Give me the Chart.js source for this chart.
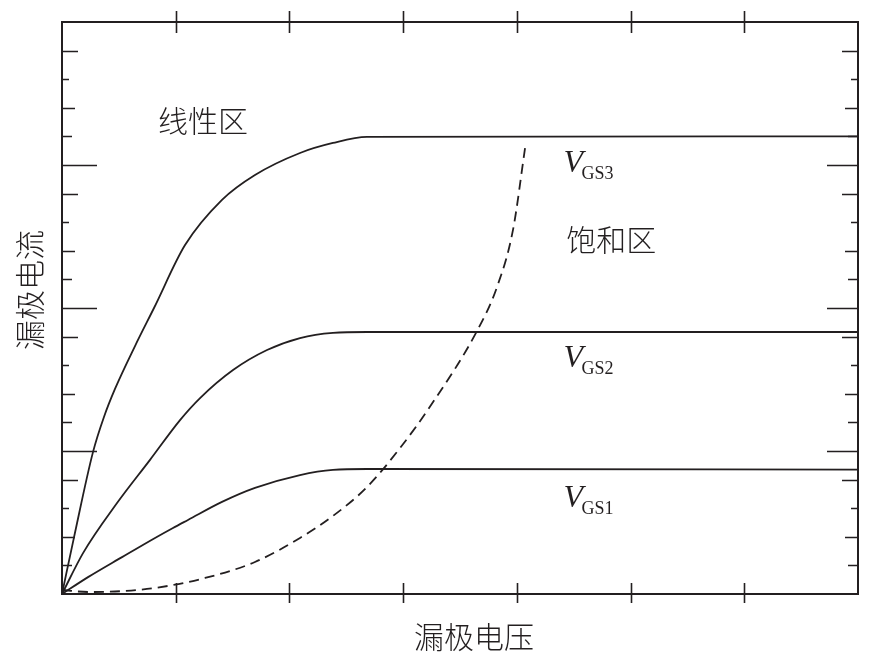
<!DOCTYPE html>
<html>
<head>
<meta charset="utf-8">
<script src="https://cdn.jsdelivr.net/npm/chart.js@4.4.1/dist/chart.umd.min.js"></script>
<style>
    html, body { margin: 0; padding: 0; background: #fff; }
    canvas { display: block; }
</style>
</head>
<body>
<canvas id="chart" width="874" height="661"></canvas>
<script>
// ===== Data =====
const vgs3Drain   = [0, 0.106, 0.273, 0.369, 0.466, 0.642, 0.809, 1.082, 1.407, 1.697, 2.093, 2.383, 2.682, 7];
const vgs3Current = [0, 1.99, 4.97, 6.19, 7.17, 8.67, 10.0, 12.2, 13.78, 14.65, 15.42, 15.77, 15.98, 16.0];

const vgs2Drain   = [0, 0.185, 0.484, 0.774, 1.038, 1.214, 1.504, 1.803, 2.093, 2.383, 2.682, 7];
const vgs2Current = [0, 1.43, 3.18, 4.69, 6.08, 6.85, 7.83, 8.53, 8.95, 9.13, 9.16, 9.16];

const vgs1Drain   = [0, 0.229, 0.528, 0.818, 0.976, 1.108, 1.407, 1.697, 2.093, 2.383, 2.682, 7];
const vgs1Current = [0, 0.59, 1.29, 1.96, 2.31, 2.59, 3.22, 3.71, 4.16, 4.34, 4.37, 4.35];

const boundaryDrain   = [0, 0.229, 0.528, 0.818, 1.258, 1.697, 2.093, 2.383, 2.682, 2.972, 3.263, 3.650, 3.825, 3.966, 4.072];
const boundaryCurrent = [0.14, 0.07, 0.10, 0.21, 0.56, 1.12, 1.96, 2.73, 3.74, 5.10, 6.71, 9.2, 10.73, 12.73, 15.59];

const xTicks = [1, 2, 3, 4, 5, 6];
const yMajorTicks = [5, 10, 15];
const yMinorTicks = [1, 2, 3, 4, 6, 7, 8, 9, 11, 12, 13, 14, 16, 17, 18, 19];

const ink = '#231f20';

function toPoints(xs, ys) {
    return xs.map((x, i) => ({ x: x, y: ys[i] }));
}

// ===== Frame, inward ticks and annotations =====
const framePlugin = {
    id: 'frame',
    afterDatasetsDraw(chart) {
        const ctx = chart.ctx;
        const a = chart.chartArea;
        const xs = chart.scales.x;
        const ys = chart.scales.y;
        const minorLen = { 1: 10, 2: 13, 3: 7, 4: 16 };

        ctx.save();
        ctx.strokeStyle = ink;
        ctx.lineWidth = 2;
        ctx.strokeRect(a.left, a.top, a.right - a.left, a.bottom - a.top);

        ctx.lineWidth = 1.6;
        ctx.beginPath();
        xTicks.forEach(v => {
            const px = Math.round(xs.getPixelForValue(v)) + 0.5;
            ctx.moveTo(px, a.top - 11);
            ctx.lineTo(px, a.top + 11);
            ctx.moveTo(px, a.bottom - 11);
            ctx.lineTo(px, a.bottom + 9);
        });
        yMajorTicks.forEach(v => {
            const py = Math.round(ys.getPixelForValue(v)) + 0.5;
            ctx.moveTo(a.left, py);
            ctx.lineTo(a.left + 35, py);
            ctx.moveTo(a.right, py);
            ctx.lineTo(a.right - 31, py);
        });
        yMinorTicks.forEach(v => {
            const py = Math.round(ys.getPixelForValue(v)) + 0.5;
            const len = minorLen[v % 5];
            ctx.moveTo(a.left, py);
            ctx.lineTo(a.left + len, py);
            ctx.moveTo(a.right, py);
            ctx.lineTo(a.right - len, py);
        });
        ctx.stroke();
        ctx.restore();
    },
    afterDraw(chart) {
        const ctx = chart.ctx;
        const xs = chart.scales.x;
        const ys = chart.scales.y;
        const cjk = '300 30px "Noto Sans CJK SC", sans-serif';

        ctx.save();
        ctx.fillStyle = ink;
        ctx.textAlign = 'center';
        ctx.textBaseline = 'middle';
        ctx.font = cjk;
        ctx.fillText('线性区', xs.getPixelForValue(1.24), ys.getPixelForValue(16.54));
        ctx.fillText('饱和区', xs.getPixelForValue(4.83), ys.getPixelForValue(12.38));

        // axis titles
        ctx.fillText('漏极电压', 474, 637);
        ctx.translate(30, 290);
        ctx.rotate(-Math.PI / 2);
        ctx.fillText('漏极电流', 0, 0);
        ctx.restore();

        // V_GS labels
        const gateLabels = [['GS3', 14.76], ['GS2', 7.94], ['GS1', 3.04]];
        ctx.save();
        ctx.fillStyle = ink;
        ctx.textAlign = 'left';
        ctx.textBaseline = 'alphabetic';
        gateLabels.forEach(([sub, yv]) => {
            const px = xs.getPixelForValue(4.41);
            const py = ys.getPixelForValue(yv);
            ctx.font = 'italic 32px "Liberation Serif", serif';
            ctx.fillText('V', px, py);
            ctx.font = '18px "Liberation Serif", serif';
            ctx.fillText(sub, px + 18, py + 7);
        });
        ctx.restore();
    }
};

const lineStyle = {
    borderColor: ink,
    borderWidth: 1.8,
    pointRadius: 0,
    fill: false,
    cubicInterpolationMode: 'monotone'
};

new Chart(document.getElementById('chart'), {
    type: 'line',
    data: {
        datasets: [
            Object.assign({ label: 'VGS3', data: toPoints(vgs3Drain, vgs3Current) }, lineStyle),
            Object.assign({ label: 'VGS2', data: toPoints(vgs2Drain, vgs2Current) }, lineStyle),
            Object.assign({ label: 'VGS1', data: toPoints(vgs1Drain, vgs1Current) }, lineStyle),
            Object.assign({ label: 'boundary', data: toPoints(boundaryDrain, boundaryCurrent), borderDash: [10, 6] }, lineStyle)
        ]
    },
    options: {
        responsive: false,
        animation: false,
        layout: { padding: { left: 62, top: 22, right: 16, bottom: 67 } },
        scales: {
            x: { type: 'linear', min: 0, max: 7, display: false },
            y: { type: 'linear', min: 0, max: 20, display: false }
        },
        plugins: {
            legend: { display: false },
            tooltip: { enabled: false }
        }
    },
    plugins: [framePlugin]
});
</script>
</body>
</html>
